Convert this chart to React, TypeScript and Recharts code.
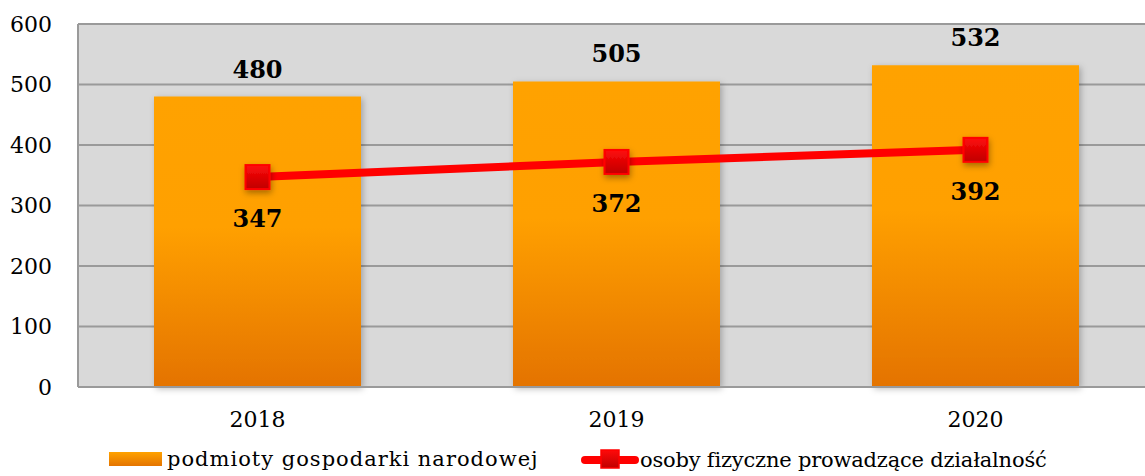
import React from 'react';
import { ComposedChart, Bar, Line, XAxis, YAxis, CartesianGrid, Legend, LabelList } from 'recharts';

const years = ['2018', '2019', '2020'];
const podmioty = [480, 505, 532];
const osobyFizyczne = [347, 372, 392];
const yTicks = [0, 100, 200, 300, 400, 500, 600];

const chartData = years.map((year, i) => ({
  year,
  podmioty: podmioty[i],
  osoby: osobyFizyczne[i],
}));

const FONT = '"DejaVu Serif", serif';

const SquareDot = (props: any) => {
  const { cx, cy } = props;
  if (cx == null || cy == null) return null;
  return (
    <rect
      x={cx - 12}
      y={cy - 12}
      width={24}
      height={24}
      fill="url(#markerGradient)"
      stroke="#ff0000"
      strokeWidth={2}
      filter="url(#markerShadow)"
    />
  );
};

const TopLabel = (props: any) => {
  const { x, y, width, value } = props;
  return (
    <text x={x + width / 2} y={y - 19} textAnchor="middle" fontFamily={FONT} fontWeight="bold" fontSize={24} fill="#000">
      {value}
    </text>
  );
};

const BelowLabel = (props: any) => {
  const { x, y, value } = props;
  return (
    <text x={x} y={y + 50} textAnchor="middle" fontFamily={FONT} fontWeight="bold" fontSize={24} fill="#000">
      {value}
    </text>
  );
};

const CustomLegend = () => (
  <div style={{ position: 'relative', width: 1145, height: 30, fontFamily: FONT, fontSize: 21, color: '#000' }}>
    <div style={{ position: 'absolute', left: 109, top: 1, display: 'flex', alignItems: 'center', whiteSpace: 'nowrap' }}>
      <svg width={53} height={16} style={{ marginRight: 5 }}>
        <defs>
          <linearGradient id="legendBar" x1="0" y1="0" x2="0" y2="1">
            <stop offset="0%" stopColor="#ffa200" />
            <stop offset="100%" stopColor="#e47400" />
          </linearGradient>
        </defs>
        <rect x={0} y={1} width={53} height={14} fill="url(#legendBar)" />
      </svg>
      <span style={{ letterSpacing: 1 }}>podmioty gospodarki narodowej</span>
    </div>
    <div style={{ position: 'absolute', left: 581, top: 1, display: 'flex', alignItems: 'center', whiteSpace: 'nowrap' }}>
      <svg width={58} height={26} style={{ marginRight: 1 }}>
        <line x1={4} y1={13} x2={54} y2={13} stroke="#ff0000" strokeWidth={8} strokeLinecap="round" />
        <rect x={20} y={3} width={18} height={18} fill="url(#markerGradient)" stroke="#ff0000" strokeWidth={1.5} />
      </svg>
      <span style={{ letterSpacing: -0.2 }}>osoby fizyczne prowadzące działalność</span>
    </div>
  </div>
);

const App: React.FC = () => {
  return (
    <div style={{ position: 'absolute', top: 0, left: 0, width: 1145, height: 476, background: '#fff', overflow: 'hidden' }}>
      <ComposedChart
        width={1145}
        height={476}
        data={chartData}
        margin={{ top: 24, right: -10, left: 0, bottom: 0 }}
      >
        <defs>
          <linearGradient id="barGradient" x1="0" y1="0" x2="0" y2="1">
            <stop offset="0%" stopColor="#ffa200" />
            <stop offset="45%" stopColor="#ffa000" />
            <stop offset="100%" stopColor="#e47300" />
          </linearGradient>
          <linearGradient id="markerGradient" x1="0" y1="0" x2="0" y2="1">
            <stop offset="0%" stopColor="#ff0a0a" />
            <stop offset="100%" stopColor="#c00000" />
          </linearGradient>
          <filter id="barShadow" x="-10%" y="-10%" width="125%" height="125%">
            <feDropShadow dx={2} dy={2} stdDeviation={3} floodColor="#000" floodOpacity={0.25} />
          </filter>
          <filter id="markerShadow" x="-50%" y="-50%" width="200%" height="200%">
            <feDropShadow dx={1} dy={3} stdDeviation={3} floodColor="#000" floodOpacity={0.35} />
          </filter>
        </defs>
        <CartesianGrid
          vertical={false}
          fill="#d9d9d9"
          stroke="#9a9a9a"
          strokeWidth={2}
        />
        <XAxis
          dataKey="year"
          axisLine={{ stroke: '#9a9a9a', strokeWidth: 2 }}
          tickLine={false}
          tickSize={6}
          tickMargin={18}
          tick={{ fill: '#000', fontSize: 22, fontFamily: FONT }}
          height={59}
        />
        <YAxis
          domain={[0, 600]}
          ticks={yTicks}
          axisLine={{ stroke: '#9a9a9a', strokeWidth: 2 }}
          tickLine={false}
          tickSize={6}
          tickMargin={20}
          tick={{ fill: '#000', fontSize: 22, fontFamily: FONT }}
          width={78}
          interval={0}
        />
        <Legend
          verticalAlign="bottom"
          content={<CustomLegend />}
          wrapperStyle={{ position: 'absolute', top: 446, left: 0, width: 1145, height: 30 }}
        />
        <Bar
          dataKey="podmioty"
          name="podmioty gospodarki narodowej"
          fill="url(#barGradient)"
          barSize={207}
          filter="url(#barShadow)"
          isAnimationActive={false}
        >
          <LabelList dataKey="podmioty" content={<TopLabel />} />
        </Bar>
        <Line
          dataKey="osoby"
          name="osoby fizyczne prowadzące działalność"
          stroke="#ff0000"
          strokeWidth={8}
          dot={<SquareDot />}
          activeDot={false}
          isAnimationActive={false}
        >
          <LabelList dataKey="osoby" content={<BelowLabel />} />
        </Line>
      </ComposedChart>
    </div>
  );
};

export default App;
